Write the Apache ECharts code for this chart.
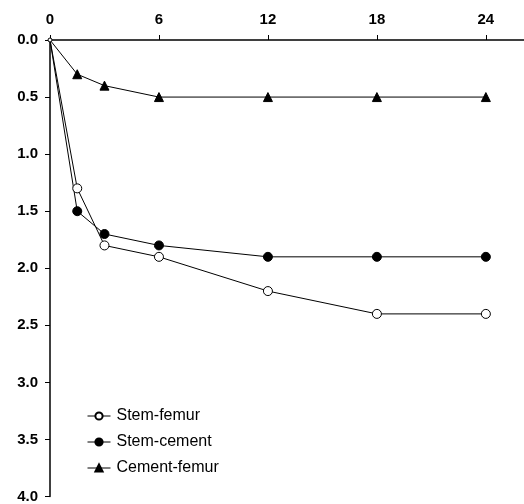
<!DOCTYPE html>
<html>
<head>
<meta charset="utf-8">
<script src="https://cdn.jsdelivr.net/npm/echarts@6/dist/echarts.min.js"></script>
<style>
html,body{margin:0;padding:0;background:#fff;}
#chart{width:524px;height:504px;}
</style>
</head>
<body>
<div id="chart"></div>
<script>
// Months after surgery and subsidence (mm) per interface
const months = [0, 1.5, 3, 6, 12, 18, 24];
const stemFemur = [0, 1.3, 1.8, 1.9, 2.2, 2.4, 2.4];
const stemCement = [0, 1.5, 1.7, 1.8, 1.9, 1.9, 1.9];
const cementFemur = [0, 0.3, 0.4, 0.5, 0.5, 0.5, 0.5];
const xTicks = [0, 6, 12, 18, 24];
const seriesNames = ['Stem-femur', 'Stem-cement', 'Cement-femur'];

const font = 'Liberation Sans, Arial, sans-serif';

// Markers at the origin are tucked under the axes; only a small ring shows
const pairs = (ys, originSize) => months.map((m, i) =>
  i === 0 ? {value: [m, ys[i]], symbolSize: originSize} : [m, ys[i]]);

const chart = echarts.init(document.getElementById('chart'), null, {renderer: 'canvas'});

const lineSeries = (name, ys, symbol, fill, size, originSize) => ({
  name: name,
  type: 'line',
  data: pairs(ys, originSize),
  symbol: symbol,
  symbolSize: size,
  showAllSymbol: true,
  lineStyle: {color: '#000', width: 1},
  itemStyle: {color: fill, borderColor: '#000', borderWidth: 1},
  emphasis: {disabled: true},
  z: name === 'Stem-femur' ? 3 : 2
});

chart.setOption({
  animation: false,
  backgroundColor: '#fff',
  grid: {left: 50, top: 40, right: 0, bottom: 7},
  xAxis: {
    type: 'value',
    position: 'top',
    min: 0,
    max: 26.1,
    interval: 6,
    axisLine: {lineStyle: {color: '#000', width: 1.5}},
    axisTick: {show: true, length: 5, lineStyle: {color: '#000'}, customValues: xTicks},
    axisLabel: {color: '#000', fontFamily: font, fontWeight: 'bold', fontSize: 15, margin: 13,
      customValues: xTicks, formatter: v => String(v)},
    splitLine: {show: false}
  },
  yAxis: {
    type: 'value',
    inverse: true,
    min: 0,
    max: 4,
    interval: 0.5,
    axisLine: {show: true, lineStyle: {color: '#000', width: 1.5}},
    axisTick: {show: true, length: 5, lineStyle: {color: '#000'}},
    axisLabel: {color: '#000', fontFamily: font, fontWeight: 'bold', fontSize: 15, margin: 12,
      formatter: v => v.toFixed(1)},
    splitLine: {show: false}
  },
  legend: {
    orient: 'vertical',
    left: 87,
    top: 407,
    padding: 0,
    itemGap: 8,
    itemWidth: 23,
    itemHeight: 9,
    data: seriesNames,
    lineStyle: {width: 1},
    textStyle: {color: '#000', fontFamily: font, fontSize: 16, padding: [0, 0, 0, 1], lineHeight: 18},
    selectedMode: false
  },
  series: [
    lineSeries(seriesNames[0], stemFemur, 'circle', '#fff', 9, 4),
    lineSeries(seriesNames[1], stemCement, 'circle', '#000', 9, 0),
    lineSeries(seriesNames[2], cementFemur, 'triangle', '#000', 9, 0)
  ]
});
</script>
</body>
</html>
